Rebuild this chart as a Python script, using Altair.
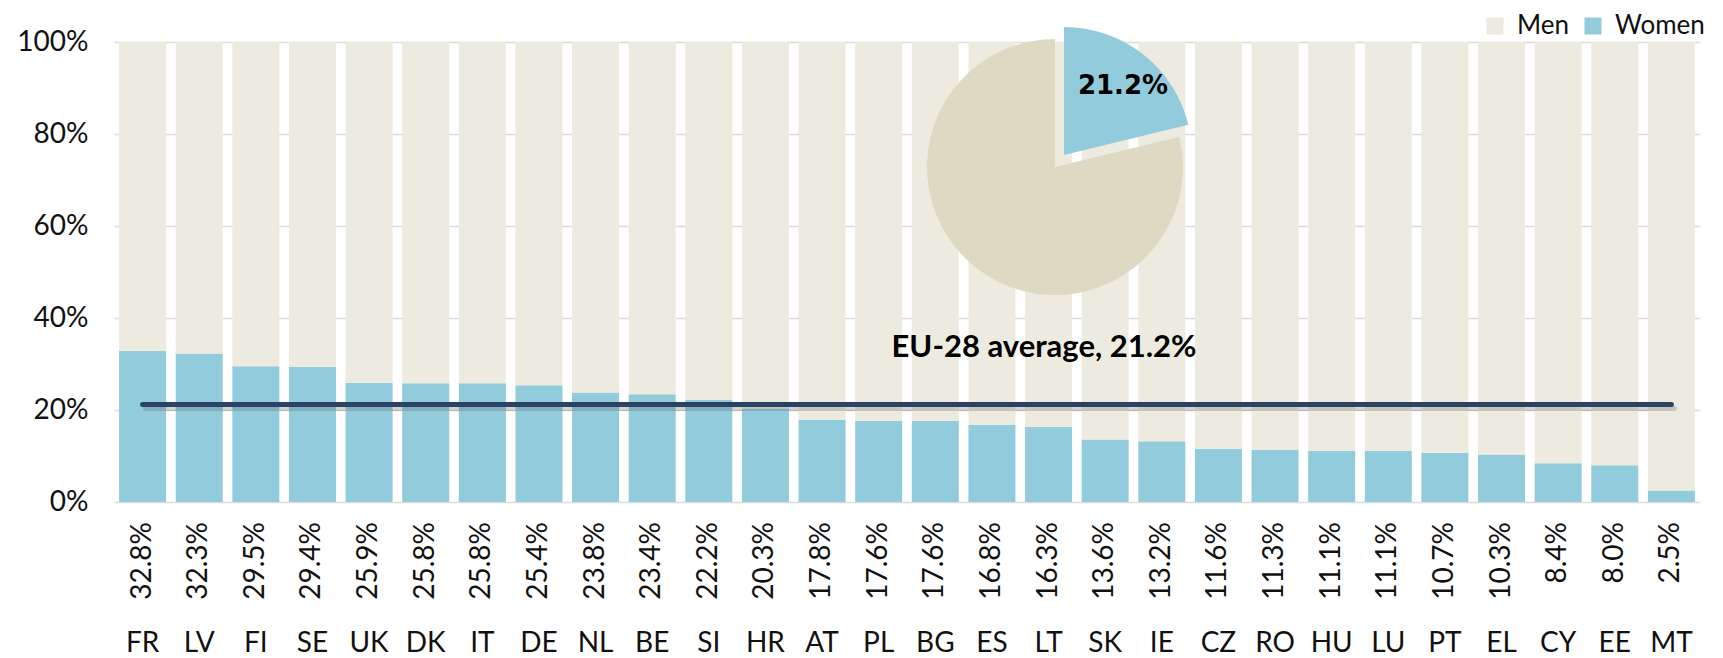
import altair as alt
import pandas as pd

countries = ["FR", "LV", "FI", "SE", "UK", "DK", "IT", "DE", "NL", "BE", "SI", "HR", "AT", "PL",
             "BG", "ES", "LT", "SK", "IE", "CZ", "RO", "HU", "LU", "PT", "EL", "CY", "EE", "MT"]
women = [32.8, 32.3, 29.5, 29.4, 25.9, 25.8, 25.8, 25.4, 23.8, 23.4, 22.2, 20.3, 17.8, 17.6,
         17.6, 16.8, 16.3, 13.6, 13.2, 11.6, 11.3, 11.1, 11.1, 10.7, 10.3, 8.4, 8.0, 2.5]
eu_avg = 21.2
y_ticks = [0, 20, 40, 60, 80, 100]

WOMEN_C = "#92cbdc"
MEN_C = "#edebe0"
PIE_MEN_C = "#ddd9c3"
LINE_C = "#2a4365"
FONT = "Lato"

rows = []
for c, w in zip(countries, women):
    rows.append({"country": c, "sex": "Women", "share": w, "ord": 0})
    rows.append({"country": c, "sex": "Men", "share": round(100 - w, 1), "ord": 1})
df_long = pd.DataFrame(rows)
df_w = pd.DataFrame({"country": countries, "women": women, "avg": [eu_avg] * len(countries)})
df_pie = pd.DataFrame({"sex": ["Women", "Men"], "start": [0, eu_avg], "end": [eu_avg, 100]})

W, H = 1586, 460
xenc = alt.X("country:N", sort=countries, title=None,
             scale=alt.Scale(paddingInner=0.17, paddingOuter=0.09),
             axis=alt.Axis(labelAngle=0, labelFontSize=28, labelFont=FONT, labelColor="#111",
                           labelPadding=127, ticks=False, domain=False))

bars = alt.Chart(df_long).mark_bar().encode(
    x=xenc,
    y=alt.Y("share:Q", stack="zero", title=None,
            scale=alt.Scale(domain=[0, 100], nice=False),
            axis=alt.Axis(values=y_ticks, labelExpr="datum.value + '%'", labelFontSize=28,
                          labelFont=FONT, labelColor="#111", labelPadding=26, ticks=False,
                          domain=False, grid=True, gridColor="#dcdcdc", gridWidth=1.5)),
    color=alt.Color("sex:N", scale=alt.Scale(domain=["Men", "Women"], range=[MEN_C, WOMEN_C]),
                    legend=alt.Legend(title=None, orient="none", legendX=1368, legendY=-29,
                                      direction="horizontal", symbolType="square",
                                      symbolSize=289, symbolStrokeWidth=0, labelFontSize=26,
                                      labelFont=FONT, labelColor="#111", labelOffset=9,
                                      columnPadding=11)),
    order=alt.Order("ord:Q"),
)

shadow = alt.Chart(df_w).mark_line(color="#555555", opacity=0.25, strokeWidth=5,
                                   strokeCap="round", yOffset=4, xOffset=3).encode(
    x=alt.X("country:N", sort=countries), y=alt.Y("avg:Q"))
line = alt.Chart(df_w).mark_line(color=LINE_C, strokeWidth=5, strokeCap="round").encode(
    x=alt.X("country:N", sort=countries), y=alt.Y("avg:Q"))

vals = alt.Chart(df_w).transform_calculate(
    lab="format(datum.women, '.1f') + '%'"
).mark_text(angle=270, align="right", baseline="middle", fontSize=28, font=FONT,
            color="#111").encode(
    x=alt.X("country:N", sort=countries), y=alt.value(H + 20), text="lab:N")

eu_text = alt.Chart(pd.DataFrame({"t": [f"EU-28 average, {eu_avg}%"]})).mark_text(
    fontSize=31, font=FONT, fontWeight="bold", color="#000", align="center",
    baseline="middle").encode(x=alt.value(930), y=alt.value(306), text="t:N")

theta = alt.Theta("start:Q", scale=alt.Scale(domain=[0, 100], range=[0, 6.283185]))
pie_men = alt.Chart(df_pie).transform_filter("datum.sex == 'Men'").mark_arc(
    radius=128, color=PIE_MEN_C).encode(theta=theta, theta2="end:Q",
                                        x=alt.value(941), y=alt.value(125))
pie_women = alt.Chart(df_pie).transform_filter("datum.sex == 'Women'").mark_arc(
    radius=128, color=WOMEN_C).encode(theta=theta, theta2="end:Q",
                                      x=alt.value(950), y=alt.value(113))
pie_text = alt.Chart(pd.DataFrame({"t": [f"{eu_avg}%"]})).mark_text(
    fontSize=26, font="DejaVu Sans", fontWeight="bold", color="#000", align="center",
    baseline="middle").encode(x=alt.value(1009), y=alt.value(44), text="t:N")

chart = alt.layer(bars, shadow, line, vals, pie_men, pie_women, pie_text, eu_text).properties(
    width=W, height=H, autosize=alt.AutoSizeParams(type="none"),
    padding={"left": 106, "top": 34, "right": 15, "bottom": 158}
).configure_view(stroke=None).configure_axis(labelFont=FONT)

chart.save("out.html", embed_options={"renderer": "svg", "actions": False})
